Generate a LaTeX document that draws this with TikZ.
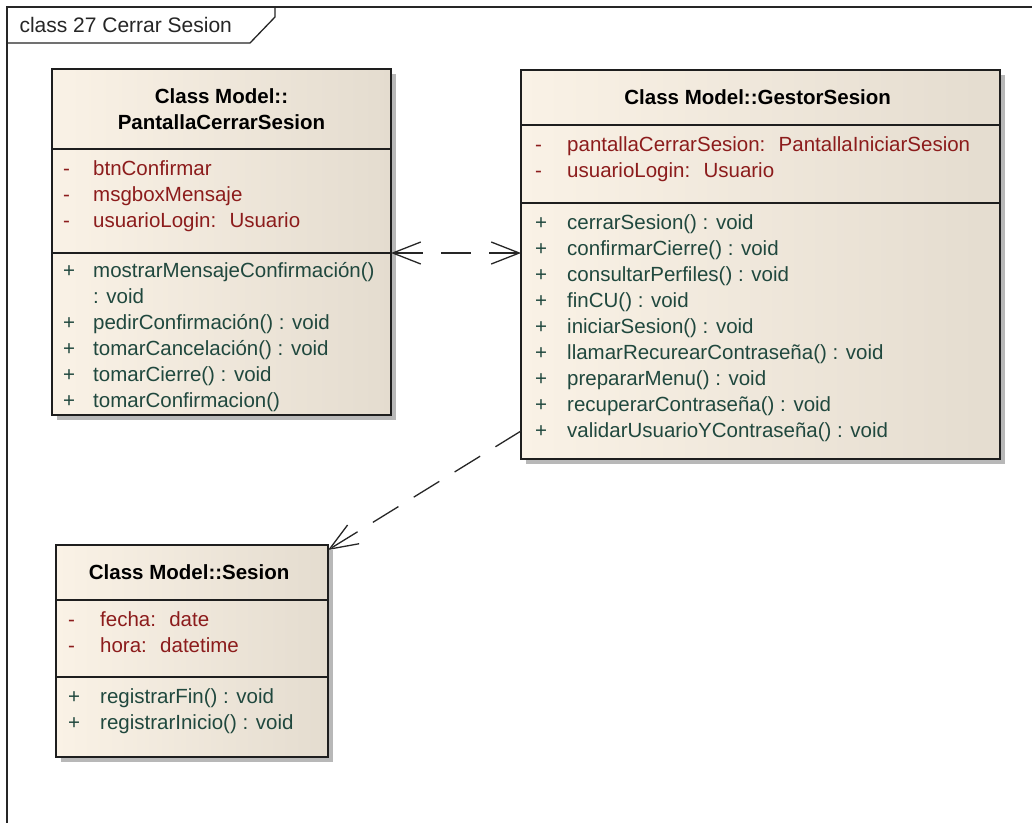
\documentclass[tikz,border=0pt]{standalone}
\usepackage{fontspec}
\setmainfont{Liberation Sans}
\usetikzlibrary{shapes,shadows,arrows.meta,positioning,calc}

\definecolor{fondoA}{RGB}{250,242,230}
\definecolor{fondoB}{RGB}{228,220,207}
\definecolor{atrib}{RGB}{140,28,28}
\definecolor{metodo}{RGB}{32,72,62}
\definecolor{borde}{RGB}{30,30,30}

% una fila de atributo, de operacion, o la continuacion de una operacion
\newcommand{\atr}[1]{\textcolor{atrib}{-} & \textcolor{atrib}{#1}\\}
\newcommand{\ope}[1]{\textcolor{metodo}{+} & \textcolor{metodo}{#1}\\}
\newcommand{\cont}[1]{ & \textcolor{metodo}{#1}\\}

\tikzset{
    seccion/.style={
        rectangle,                % cada compartimento de la clase
        draw=borde,               % borde casi negro
        line width=1.4pt,
        left color=fondoA,        % degradado crema -> tostado
        right color=fondoB,
        minimum width=#1,         % ancho comun a las tres partes
        outer sep=0pt,            % las partes se apilan sin hueco
        inner sep=0pt,
        drop shadow={shadow xshift=5pt, shadow yshift=-5pt, fill=black!28, opacity=1}
    },
    cabecera/.style={
        font=\fontsize{20.5}{26}\selectfont\bfseries,
        align=center              % nombre de la clase centrado
    },
    miembros/.style={
        inner sep=0pt,
        anchor=north west,        % se cuelga de la esquina del compartimento
        font=\fontsize{20.5}{26}\selectfont
    },
    marco/.style={draw=black!85, line width=1.3pt},
    etiqueta/.style={font=\fontsize{21}{26}\selectfont, text=black!85},
    dependencia/.style={
        draw=black!85,
        line width=1.3pt,
        dash pattern=on 30pt off 18pt % trazo discontinuo largo
    },
    >={Straight Barb[length=28pt,width=22pt]}
}

\begin{document}
\begin{tikzpicture}[x=1pt, y=-1pt]
    \useasboundingbox[fill=white] (0,0) rectangle (1032,823);
    \draw[marco] (1032,7) -- (7,7) -- (7,823);
    \draw[marco] (7,43) -- (250,43) -- (275,17) -- (275,7);
    \node[etiqueta, anchor=west] (titulo) at (16,25) {class 27 Cerrar Sesion};

    \node[seccion=339pt, cabecera, minimum height=80pt, anchor=north west] (pantallaTit) at (52,69) {
        Class Model::\\PantallaCerrarSesion
    };
    \node[seccion=339pt, minimum height=104pt, below=0pt of pantallaTit] (pantallaAtr) {};
    \node[seccion=339pt, minimum height=162pt, below=0pt of pantallaAtr] (pantallaOps) {};
    \node[miembros, below right=8pt and 11pt of pantallaAtr.north west] (pantallaAtrTxt) {
        \begin{tabular}{@{}p{30pt}@{}l@{}}
            \atr{btnConfirmar}
            \atr{msgboxMensaje}
            \atr{usuarioLogin:~ Usuario}
        \end{tabular}
    };
    \node[miembros, below right=6pt and 11pt of pantallaOps.north west] (pantallaOpsTxt) {
        \begin{tabular}{@{}p{30pt}@{}l@{}}
            \ope{mostrarMensajeConfirmación()}
            \cont{: void}
            \ope{pedirConfirmación() : void}
            \ope{tomarCancelación() : void}
            \ope{tomarCierre() : void}
            \ope{tomarConfirmacion()}
        \end{tabular}
    };

    \node[seccion=479pt, cabecera, minimum height=55pt, anchor=north west] (gestorTit) at (521,70) {
        Class Model::GestorSesion
    };
    \node[seccion=479pt, minimum height=78pt, below=0pt of gestorTit] (gestorAtr) {};
    \node[seccion=479pt, minimum height=256pt, below=0pt of gestorAtr] (gestorOps) {};
    \node[miembros, below right=8pt and 14pt of gestorAtr.north west] (gestorAtrTxt) {
        \begin{tabular}{@{}p{32pt}@{}l@{}}
            \atr{pantallaCerrarSesion:~ PantallaIniciarSesion}
            \atr{usuarioLogin:~ Usuario}
        \end{tabular}
    };
    \node[miembros, below right=8pt and 14pt of gestorOps.north west] (gestorOpsTxt) {
        \begin{tabular}{@{}p{32pt}@{}l@{}}
            \ope{cerrarSesion() : void}
            \ope{confirmarCierre() : void}
            \ope{consultarPerfiles() : void}
            \ope{finCU() : void}
            \ope{iniciarSesion() : void}
            \ope{llamarRecurearContraseña() : void}
            \ope{prepararMenu() : void}
            \ope{recuperarContraseña() : void}
            \ope{validarUsuarioYContraseña() : void}
        \end{tabular}
    };

    \node[seccion=272pt, cabecera, minimum height=55pt, anchor=north west] (sesionTit) at (56,545) {
        Class Model::Sesion
    };
    \node[seccion=272pt, minimum height=77pt, below=0pt of sesionTit] (sesionAtr) {};
    \node[seccion=272pt, minimum height=80pt, below=0pt of sesionAtr] (sesionOps) {};
    \node[miembros, below right=8pt and 12pt of sesionAtr.north west] (sesionAtrTxt) {
        \begin{tabular}{@{}p{32pt}@{}l@{}}
            \atr{fecha:~ date}
            \atr{hora:~ datetime}
        \end{tabular}
    };
    \node[miembros, below right=8pt and 12pt of sesionOps.north west] (sesionOpsTxt) {
        \begin{tabular}{@{}p{32pt}@{}l@{}}
            \ope{registrarFin() : void}
            \ope{registrarInicio() : void}
        \end{tabular}
    };

    \draw[dependencia, <->] (pantallaAtr.south east) -- (gestorOps.west |- pantallaAtr.south east);
    \draw[dependencia, ->] ([yshift=28pt]gestorOps.south west) -- ([yshift=-5pt]sesionTit.north east);
\end{tikzpicture}
\end{document}
